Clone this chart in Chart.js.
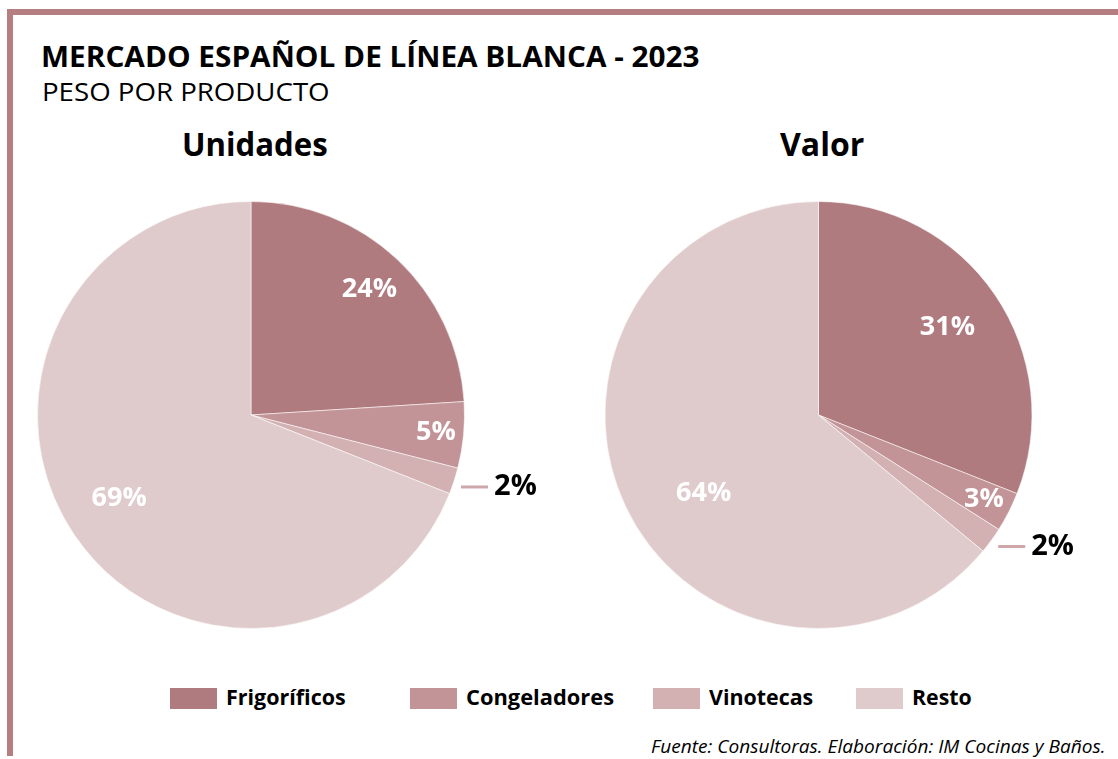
<!DOCTYPE html>
<html>
<head>
<meta charset="utf-8">
<script src="https://cdn.jsdelivr.net/npm/chart.js@4/dist/chart.umd.min.js"></script>
<style>
  html, body { margin: 0; padding: 0; background: #fff; }
  body { width: 1118px; height: 759px; position: relative; overflow: hidden; font-family: "Open Sans", sans-serif; color: #000; }
  .frame-top { position: absolute; left: 7px; top: 9px; width: 1111px; height: 6px; background: #b57f82; }
  .frame-left { position: absolute; left: 7px; top: 9px; width: 6px; height: 747px; background: #b57f82; }
  .txt { position: absolute; white-space: nowrap; line-height: 1; }
  #titulo { left: 41px; top: 41px; font-size: 29px; font-weight: 700; }
  #subtitulo { left: 42px; top: 78px; font-size: 26px; font-weight: 400; }
  .pie-title { font-size: 32px; font-weight: 700; top: 128px; }
  canvas { position: absolute; }
  .leg-box { position: absolute; top: 688px; width: 47px; height: 21px; }
  .leg-txt { top: 685px; font-size: 22px; font-weight: 700; }
  #fuente { top: 737px; left: 651px; font-size: 18px; font-style: italic; }
</style>
</head>
<body>
<div class="frame-top"></div>
<div class="frame-left"></div>
<div class="txt" id="titulo" data-w="659">MERCADO ESPAÑOL DE LÍNEA BLANCA - 2023</div>
<div class="txt" id="subtitulo" data-w="288">PESO POR PRODUCTO</div>
<div class="txt pie-title" id="t1" data-w="146" data-cx="255">Unidades</div>
<div class="txt pie-title" id="t2" data-w="84" data-cx="822">Valor</div>
<canvas id="pieUnidades" width="560" height="450" style="left:0px;top:190px"></canvas>
<canvas id="pieValor" width="558" height="450" style="left:560px;top:190px"></canvas>
<div id="legend"></div>
<div class="txt" id="fuente" data-w="454">Fuente: Consultoras. Elaboración: IM Cocinas y Baños.</div>

<script>
// datos
const categorias = ["Frigoríficos", "Congeladores", "Vinotecas", "Resto"];
const unidades = [24, 5, 2, 69];
const valor = [31, 3, 2, 64];
const colores = ["#b07b7f", "#c29397", "#d3b0b2", "#e0cbcc"];

// leyenda (posiciones a mano)
const legendX = [170, 410, 653, 856];
const legendW = [120, 148, 104, 60];

const legend = document.getElementById("legend");
categorias.forEach((c, i) => {
  const box = document.createElement("div");
  box.className = "leg-box";
  box.style.left = legendX[i] + "px";
  box.style.background = colores[i];
  legend.appendChild(box);
  const t = document.createElement("div");
  t.className = "txt leg-txt";
  t.style.left = (legendX[i] + 56) + "px";
  t.dataset.w = legendW[i];
  t.textContent = c;
  legend.appendChild(t);
});

// ajustar ancho de los textos (la fuente original es mas estrecha)
function ajustar() {
  document.querySelectorAll(".txt[data-w]").forEach(el => {
    const w = el.offsetWidth;
    const target = parseFloat(el.dataset.w);
    if (el.dataset.cx) {
      el.style.left = (parseFloat(el.dataset.cx) - target / 2) + "px";
    }
    el.style.transformOrigin = "left top";
    el.style.transform = "scaleX(" + (target / w) + ")";
  });
}

// etiquetas de porcentaje
const etiquetas = {
  id: "etiquetas",
  afterDatasetsDraw(chart, args, opts) {
    const ctx = chart.ctx;
    const meta = chart.getDatasetMeta(0);
    const data = chart.data.datasets[0].data;
    meta.data.forEach((arc, i) => {
      const p = arc.getProps(["x", "y", "startAngle", "endAngle", "outerRadius"], true);
      const mid = (p.startAngle + p.endAngle) / 2;
      ctx.save();
      if (i === opts.externo) {
        const ex = p.x + Math.cos(mid) * p.outerRadius + 7;
        const ey = p.y + Math.sin(mid) * p.outerRadius + 6;
        ctx.strokeStyle = "#cda7aa";
        ctx.lineWidth = 3;
        ctx.beginPath();
        ctx.moveTo(ex, ey);
        ctx.lineTo(ex + 27, ey);
        ctx.stroke();
        ctx.fillStyle = "#000";
        ctx.font = "bold 29px 'Open Sans'";
        ctx.textAlign = "left";
        ctx.textBaseline = "middle";
        ctx.fillText(data[i] + "%", ex + 33, ey);
      } else {
        const a = mid + (opts.giro[i] || 0) * Math.PI / 180;
        const r = p.outerRadius * opts.radio[i];
        ctx.fillStyle = "#fff";
        ctx.font = "bold 27px 'Open Sans'";
        ctx.textAlign = "center";
        ctx.textBaseline = "middle";
        ctx.fillText(data[i] + "%", p.x + Math.cos(a) * r, p.y + Math.sin(a) * r);
      }
      ctx.restore();
    });
  }
};

function crearPie(id, valores, padding, radio, giro) {
  return new Chart(document.getElementById(id), {
    type: "pie",
    data: {
      labels: categorias,
      datasets: [{
        data: valores,
        backgroundColor: colores,
        borderColor: "rgba(255,255,255,0.55)",
        borderWidth: 1
      }]
    },
    options: {
      responsive: false,
      animation: false,
      devicePixelRatio: 1,
      layout: { padding: padding },
      plugins: {
        legend: { display: false },
        tooltip: { enabled: false },
        etiquetas: { externo: 2, radio: radio, giro: giro }
      }
    },
    plugins: [etiquetas]
  });
}

document.fonts.load("bold 25px 'Open Sans'").then(() => document.fonts.load("italic 18px 'Open Sans'")).finally(() => {
  ajustar();
  crearPie("pieUnidades", unidades, { left: 37, right: 95, top: 11, bottom: 11 }, [0.81, 0.87, 0, 0.73], [0, 0, 0, 2]);
  crearPie("pieValor", valor, { left: 44.5, right: 85.5, top: 11, bottom: 11 }, [0.73, 0.87, 0, 0.65], [0, 0, 0, -9]);
});
</script>
</body>
</html>
